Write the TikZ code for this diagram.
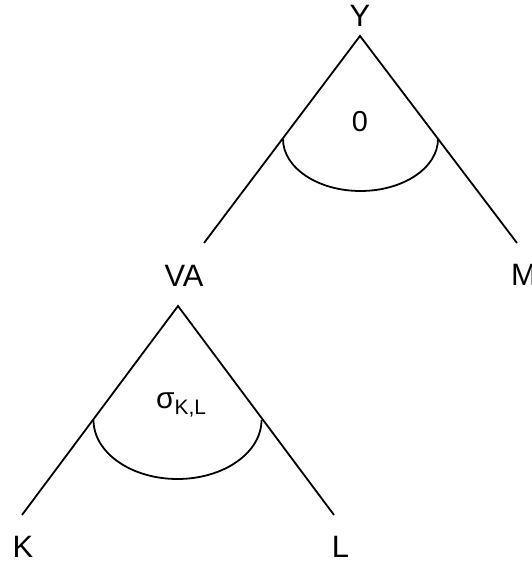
\documentclass[tikz,border=0pt]{standalone}
\usepackage{fontspec}
\setmainfont{Liberation Sans}
\begin{document}
\begin{tikzpicture}[x=1bp,y=1bp,
  lbl/.style={inner sep=0pt,font=\fontsize{31}{36}\selectfont},
  edge/.style={line width=1.8bp,line cap=butt},
  angarc/.style={line width=1.8bp}]
\useasboundingbox (0,0) rectangle (532,564);
% labels
\node[lbl] (Y) at (360,548) {Y};
\node[lbl] (VA) at (184,288) {VA};
\node[lbl,anchor=west] (M) at (511,289) {M};
\node[lbl] (K) at (23,17.5) {K};
\node[lbl] (L) at (340.5,17.5) {L};
\node[inner sep=0pt,font=\fontsize{29}{34}\selectfont] (zero) at (360,442) {0};
\node[inner sep=0pt,anchor=base west,font=\fontsize{30}{34}\selectfont] (sig) at (156,155)
  {σ\raisebox{-6bp}{\fontsize{21}{24}\selectfont K,L}};
% top tree
\coordinate (topA) at (360,528);
\coordinate (topL) at (204,321);
\coordinate (topR) at (517,321);
\draw[edge] (topL) -- (topA) -- (topR);
\draw[angarc] (283,425) arc[start angle=180,end angle=360,x radius=77.5,y radius=52];
% bottom tree
\coordinate (botA) at (178,258);
\coordinate (botL) at (22,49);
\coordinate (botR) at (334,49);
\draw[edge] (botL) -- (botA) -- (botR);
\draw[angarc] (93.5,144) arc[start angle=180,end angle=360,x radius=84,y radius=59];
\end{tikzpicture}
\end{document}
